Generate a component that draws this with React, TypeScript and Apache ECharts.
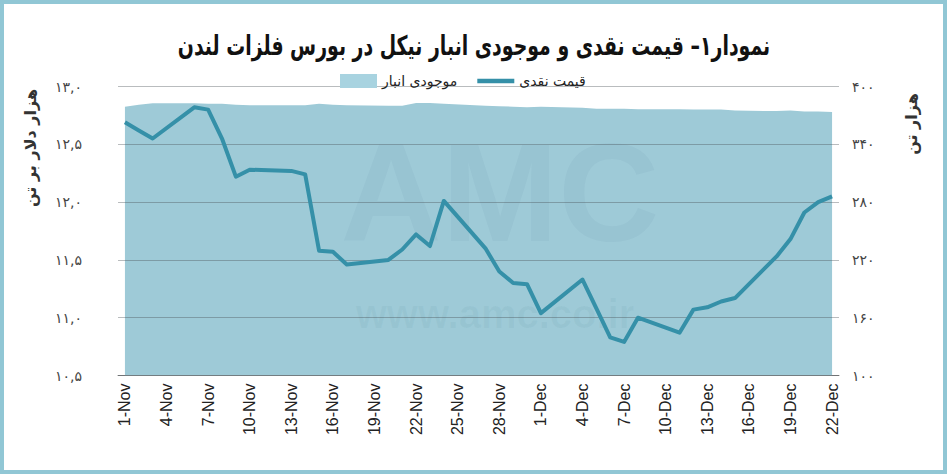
import React, { useEffect, useRef } from 'react';
import * as echarts from 'echarts';

// Trading days shown on the chart (Nov–Dec)
const tradingDays = [
  '1-Nov', '2-Nov', '3-Nov', '6-Nov', '7-Nov', '8-Nov', '9-Nov', '10-Nov',
  '13-Nov', '14-Nov', '15-Nov', '16-Nov', '17-Nov', '20-Nov', '21-Nov', '22-Nov',
  '23-Nov', '24-Nov', '27-Nov', '28-Nov', '29-Nov', '30-Nov', '1-Dec', '4-Dec',
  '5-Dec', '6-Dec', '7-Dec', '8-Dec', '11-Dec', '12-Dec', '13-Dec', '14-Dec',
  '15-Dec', '18-Dec', '19-Dec', '20-Dec', '21-Dec', '22-Dec',
];

// قیمت نقدی (thousand USD per tonne)
const cashPrice = [
  12.69, 12.62, 12.55, 12.82, 12.80, 12.55, 12.22, 12.28,
  12.27, 12.24, 11.58, 11.57, 11.46, 11.50, 11.59, 11.72,
  11.62, 12.01, 11.60, 11.40, 11.30, 11.29, 11.04, 11.33,
  11.08, 10.83, 10.79, 11.00, 10.87, 11.07, 11.09, 11.14,
  11.17, 11.53, 11.68, 11.91, 12.00, 12.05,
];

// موجودی انبار (thousand tonnes)
const inventory = [
  379, 381, 382.5, 382.5, 382, 382, 381, 380.5,
  380.5, 380.5, 382, 381, 380.5, 380, 380, 383,
  383, 382, 380, 379.5, 379, 378.5, 379, 378,
  377, 377, 377, 376.5, 376.5, 376, 376, 376,
  375, 374.5, 375, 374, 374, 373.5,
];

const calendarMonths = ['Nov', 'Dec'];
const calendarMonthDays = [30, 22];

const leftTickLabels = ['۱۰,۵', '۱۱,۰', '۱۱,۵', '۱۲,۰', '۱۲,۵', '۱۳,۰'];
const rightTickLabels = ['۱۰۰', '۱۶۰', '۲۲۰', '۲۸۰', '۳۴۰', '۴۰۰'];

const titleText = 'نمودار۱– قیمت نقدی و موجودی انبار نیکل در بورس فلزات لندن';
const priceName = 'قیمت نقدی';
const stockName = 'موجودی انبار';
const leftAxisName = 'هزار دلار بر تن';
const rightAxisName = 'هزار تن';

const LEFT_MIN = 10.5, LEFT_MAX = 13, LEFT_STEP = 0.5;
const RIGHT_MIN = 100, RIGHT_MAX = 400, RIGHT_STEP = 60;

export default function App() {
  const ref = useRef<HTMLDivElement>(null);

  useEffect(() => {
    if (!ref.current) return;
    const chart = echarts.init(ref.current, null, { renderer: 'svg' });

    const categories: string[] = [];
    calendarMonths.forEach((m, i) => {
      for (let d = 1; d <= calendarMonthDays[i]; d++) categories.push(`${d}-${m}`);
    });
    const pick = (arr: number[]) =>
      categories.map((c) => {
        const i = tradingDays.indexOf(c);
        return i >= 0 ? arr[i] : null;
      });

    const persian = 'DejaVu Sans';
    const watermark = 'rgba(60,110,130,0.06)';

    chart.setOption({
      animation: false,
      backgroundColor: '#ffffff',
      legend: {
        left: 335,
        top: 69,
        itemWidth: 37,
        itemHeight: 14,
        itemGap: 20,
        textStyle: { fontFamily: persian, fontSize: 14, color: '#222' },
        data: [
          { name: stockName, icon: 'rect', itemStyle: { color: '#a8d3e0' } },
          { name: priceName, icon: 'path://M0,0 H40 V5 H0 Z' },
        ],
      },
      grid: { left: 118, right: 108, top: 86.5, bottom: 98.5, containLabel: false },
      xAxis: {
        type: 'category',
        data: categories,
        boundaryGap: true,
        axisLine: { lineStyle: { color: '#8a8a8a', width: 1 } },
        axisTick: { interval: 2, length: 6, lineStyle: { color: '#8a8a8a' } },
        axisLabel: {
          interval: 2,
          rotate: 90,
          margin: 8,
          fontFamily: 'Liberation Sans',
          fontSize: 16,
          color: '#222',
        },
        splitLine: { show: false },
      },
      yAxis: [
        {
          type: 'value',
          position: 'left',
          min: LEFT_MIN,
          max: LEFT_MAX,
          interval: LEFT_STEP,
          z: 2,
          axisLine: { show: false },
          axisTick: { show: false },
          axisLabel: {
            margin: 36,
            fontFamily: persian,
            fontSize: 14,
            color: '#444',
            formatter: (v: number) => leftTickLabels[Math.round((v - LEFT_MIN) / LEFT_STEP)] ?? '',
          },
          splitLine: { show: true, lineStyle: { color: 'rgba(70,80,85,0.38)', width: 1 } },
        },
        {
          type: 'value',
          position: 'right',
          min: RIGHT_MIN,
          max: RIGHT_MAX,
          interval: RIGHT_STEP,
          z: 2,
          axisLine: { show: false },
          axisTick: { show: false },
          axisLabel: {
            margin: 13,
            fontFamily: persian,
            fontSize: 14,
            color: '#444',
            formatter: (v: number) => rightTickLabels[Math.round((v - RIGHT_MIN) / RIGHT_STEP)] ?? '',
          },
          splitLine: { show: false },
        },
      ],
      graphic: [
        {
          type: 'text',
          x: 474,
          y: 45,
          scaleX: 0.7,
          style: {
            text: titleText,
            fontFamily: persian,
            fontWeight: 'bold',
            fontSize: 27,
            fill: '#111',
            align: 'center',
            verticalAlign: 'middle',
          },
        },
        {
          type: 'text',
          x: 30,
          y: 148,
          rotation: Math.PI / 2,
          style: {
            text: leftAxisName,
            fontFamily: persian,
            fontSize: 16,
            fontWeight: 'bold',
            fill: '#333',
            align: 'center',
            verticalAlign: 'middle',
          },
        },
        {
          type: 'text',
          x: 911,
          y: 124,
          rotation: Math.PI / 2,
          style: {
            text: rightAxisName,
            fontFamily: persian,
            fontSize: 16,
            fontWeight: 'bold',
            fill: '#333',
            align: 'center',
            verticalAlign: 'middle',
          },
        },
        {
          type: 'text',
          x: 500,
          y: 192,
          z: 1.5,
          silent: true,
          style: {
            text: 'AMC',
            fontFamily: 'Liberation Sans',
            fontWeight: 'bold',
            fontSize: 140,
            fill: watermark,
            align: 'center',
            verticalAlign: 'middle',
          },
        },
        {
          type: 'text',
          x: 495,
          y: 314,
          z: 1.5,
          silent: true,
          style: {
            text: 'www.amc.co.ir',
            fontFamily: 'Liberation Sans',
            fontWeight: 'bold',
            fontSize: 40,
            fill: watermark,
            align: 'center',
            verticalAlign: 'middle',
          },
        },
      ],
      series: [
        {
          name: stockName,
          type: 'line',
          yAxisIndex: 1,
          z: 1,
          data: pick(inventory),
          connectNulls: true,
          showSymbol: false,
          symbol: 'none',
          itemStyle: { color: '#a3cfdc' },
          lineStyle: { width: 0, color: '#a3cfdc' },
          areaStyle: { color: '#9ecad7', opacity: 1, origin: 'start' },
        },
        {
          name: priceName,
          type: 'line',
          yAxisIndex: 0,
          z: 3,
          data: pick(cashPrice),
          connectNulls: true,
          showSymbol: false,
          symbol: 'none',
          itemStyle: { color: '#3590a8' },
          lineStyle: { width: 4, color: '#3590a8', join: 'round' },
        },
      ],
    });

    return () => chart.dispose();
  }, []);

  return (
    <div style={{ position: 'fixed', left: 0, top: 0, width: 947, height: 474, background: '#fff' }}>
      <div ref={ref} style={{ position: 'absolute', left: 0, top: 0, width: 947, height: 474 }} />
      <div
        style={{
          position: 'absolute',
          left: 0,
          top: 0,
          width: 947,
          height: 474,
          boxSizing: 'border-box',
          border: '4px solid #91c7d5',
          pointerEvents: 'none',
        }}
      />
    </div>
  );
}
